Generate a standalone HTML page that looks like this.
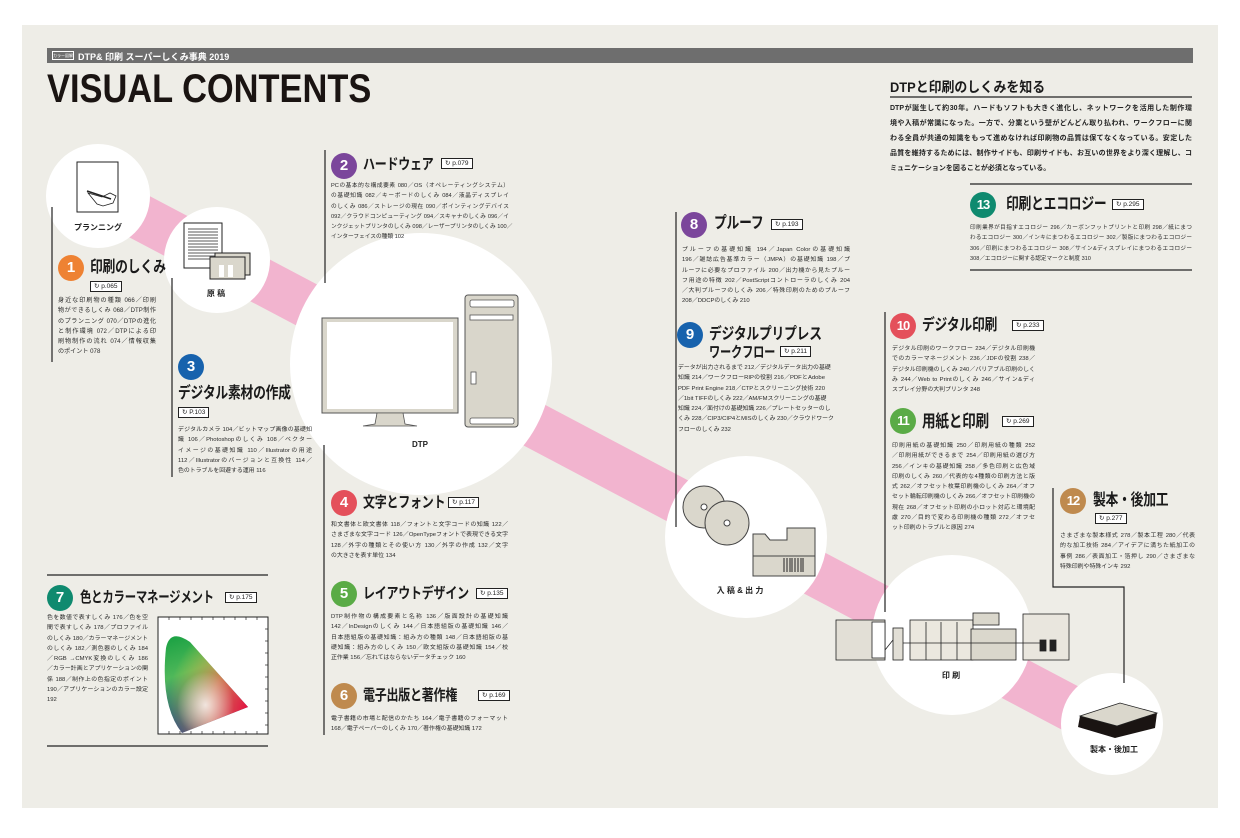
<!DOCTYPE html>
<html><head><meta charset="utf-8">
<style>
*{margin:0;padding:0;box-sizing:border-box}
body{width:1240px;height:838px;background:#fff;position:relative;overflow:hidden;font-family:"Liberation Sans","Noto Sans CJK JP",sans-serif;color:#222}
.a{position:absolute}
.t{position:absolute;font-weight:bold;font-size:15px;white-space:nowrap;letter-spacing:-0.3px;color:#1a1a1a;line-height:1;transform:scaleX(0.8);transform-origin:0 0}
.n{position:absolute;width:26px;height:26px;border-radius:50%;color:#fff;font-weight:bold;font-size:15px;text-align:center;line-height:26px;font-family:"Liberation Sans",sans-serif}
.p{position:absolute;border:1px solid #222;background:#fff;font-size:6.5px;line-height:9px;height:11px;padding:0 3px;white-space:nowrap;color:#222}
.b{position:absolute;font-size:6.1px;line-height:10.3px;color:#2a2a2a}
.b span{display:block;white-space:nowrap;text-align:justify;text-align-last:justify}
.b span.l{text-align-last:left}
.lab{position:absolute;font-size:8px;font-weight:bold;white-space:nowrap;color:#222;transform:translateX(-50%)}
</style></head><body>
<svg class="a" style="left:0;top:0" width="1240" height="838" viewBox="0 0 1240 838">
<defs>
<linearGradient id="g1" x1="0" y1="0" x2="0.3" y2="1"><stop offset="0" stop-color="#0a9a3c"/><stop offset="0.45" stop-color="#4fb85a"/><stop offset="1" stop-color="#1d2a8c"/></linearGradient>
<radialGradient id="g2" cx="1" cy="0.75" r="0.9"><stop offset="0" stop-color="#e8003c"/><stop offset="0.5" stop-color="#f07a50" stop-opacity="0.8"/><stop offset="1" stop-color="#f0e040" stop-opacity="0"/></radialGradient>
<radialGradient id="g3" cx="0.5" cy="0.7" r="0.3"><stop offset="0" stop-color="#fff" stop-opacity="0.8"/><stop offset="1" stop-color="#fff" stop-opacity="0"/></radialGradient>
<clipPath id="cp"><path d="M166 648 Q170 628 190 642 L248 707 L182 733 Q160 705 166 648Z"/></clipPath>
</defs>
<rect x="22" y="25" width="1196" height="783" fill="#eeede7"/>
<rect x="47" y="48" width="1146" height="15" fill="#6e6e6e"/>
<line x1="70" y1="180" x2="1140" y2="745" stroke="#f2b4cf" stroke-width="46"/>
<circle cx="98" cy="196" r="52" fill="#fff"/>
<circle cx="217" cy="260" r="53" fill="#fff"/>
<circle cx="421" cy="364" r="131" fill="#fff"/>
<circle cx="746" cy="537" r="81" fill="#fff"/>
<circle cx="952" cy="635" r="80" fill="#fff"/>
<circle cx="1112" cy="724" r="51" fill="#fff"/>
<rect x="77" y="162" width="41" height="50" fill="#fff" stroke="#222" stroke-width="1"/>
<path d="M88 193 L102 197 L110 193 L116 196 L113 203 L103 206 L97 204 Z" fill="#fff" stroke="#222" stroke-width="0.8"/>
<line x1="87" y1="191" x2="111" y2="199" stroke="#222" stroke-width="1.5"/>
<rect x="184" y="223" width="38" height="45" fill="#fff" stroke="#222"/>
<g stroke="#222" stroke-width="0.7"><line x1="188" y1="229" x2="218" y2="229"/><line x1="188" y1="232" x2="218" y2="232"/><line x1="188" y1="235" x2="218" y2="235"/><line x1="188" y1="238" x2="218" y2="238"/><line x1="188" y1="241" x2="218" y2="241"/><line x1="188" y1="244" x2="218" y2="244"/><line x1="188" y1="247" x2="218" y2="247"/><line x1="188" y1="250" x2="218" y2="250"/><line x1="188" y1="253" x2="218" y2="253"/><line x1="188" y1="256" x2="218" y2="256"/><line x1="188" y1="259" x2="218" y2="259"/></g>
<rect x="215" y="253" width="35" height="22" fill="#dad7cc" stroke="#222"/>
<rect x="210" y="257" width="35" height="22" fill="#dad7cc" stroke="#222"/>
<rect x="219" y="265" width="5" height="12" fill="#fff"/><rect x="228" y="265" width="5" height="12" fill="#fff"/>
<rect x="322" y="318" width="136" height="95" fill="#d9d6cb" stroke="#555"/>
<rect x="327" y="322" width="126" height="87" fill="#fff"/>
<path d="M377 413 L375 424 L363 426 L417 426 L405 424 L403 413Z" fill="#d9d6cb" stroke="#555" stroke-width="0.8"/>
<rect x="465" y="295" width="53" height="132" rx="3" fill="#d9d6cb" stroke="#555"/>
<rect x="470" y="300" width="44" height="7" rx="2" fill="#fff" stroke="#555" stroke-width="0.8"/>
<rect x="470" y="315" width="43" height="5" fill="#fff" stroke="#555" stroke-width="0.8"/>
<rect x="470" y="418" width="44" height="6" rx="2" fill="#fff" stroke="#555" stroke-width="0.8"/>
<rect x="471" y="372" width="5" height="12" fill="#fff" stroke="#555" stroke-width="0.8"/>
<circle cx="704" cy="507" r="21" fill="#dad7cc" stroke="#444"/>
<circle cx="704" cy="507" r="3" fill="#fff" stroke="#444"/>
<circle cx="727" cy="523" r="22" fill="#dad7cc" stroke="#444"/>
<circle cx="727" cy="523" r="3" fill="#fff" stroke="#444"/>
<path d="M753 534 L765 534 L770 540 L787 540 L787 528 L815 528 L815 576 L753 576 Z" fill="#dad7cc" stroke="#444"/>
<line x1="753" y1="556" x2="815" y2="556" stroke="#444"/>
<g stroke="#222" stroke-width="1"><line x1="784" y1="558" x2="784" y2="572"/><line x1="787" y1="558" x2="787" y2="572"/><line x1="790" y1="558" x2="790" y2="572"/><line x1="792" y1="558" x2="792" y2="572"/><line x1="795" y1="558" x2="795" y2="572"/><line x1="798" y1="558" x2="798" y2="572"/><line x1="801" y1="558" x2="801" y2="572"/><line x1="803" y1="558" x2="803" y2="572"/></g>
<g stroke="#222" stroke-width="0.8" fill="#e2dfd6">
<rect x="836" y="620" width="49" height="40"/>
<rect x="872" y="622" width="13" height="36" fill="#fff"/>
<rect x="893" y="628" width="10" height="32"/>
<rect x="910" y="620" width="63" height="40" fill="#ebe8df"/>
<line x1="926" y1="622" x2="926" y2="660"/><line x1="941" y1="622" x2="941" y2="660"/><line x1="957" y1="622" x2="957" y2="660"/>
<rect x="973" y="613" width="26" height="12" fill="#dad7cc"/>
<rect x="971" y="629" width="45" height="31" fill="#dad7cc"/>
<rect x="1023" y="614" width="46" height="46" fill="#e9e6de"/>
<rect x="1040" y="640" width="6" height="11" fill="#222"/><rect x="1050" y="640" width="6" height="11" fill="#222"/>
<line x1="885" y1="650" x2="893" y2="640"/>
<line x1="903" y1="643" x2="1040" y2="643"/>
</g>
<path d="M1080 716 L1120 703 L1157 713 L1155 728 L1115 738 L1078 727 Z" fill="#1a1412"/>
<path d="M1080 716 L1120 703 L1157 713 L1117 726 Z" fill="#dad7cc" stroke="#222" stroke-width="0.8"/>
<rect x="158" y="617" width="110" height="117" fill="#fff" stroke="#222"/>
<g clip-path="url(#cp)"><rect x="158" y="628" width="95" height="110" fill="url(#g1)"/><rect x="158" y="628" width="95" height="110" fill="url(#g2)"/><rect x="158" y="628" width="95" height="110" fill="url(#g3)"/></g>
<g stroke="#222" stroke-width="0.7">
<line x1="169" y1="617" x2="169" y2="620"/><line x1="180" y1="617" x2="180" y2="620"/><line x1="191" y1="617" x2="191" y2="620"/><line x1="202" y1="617" x2="202" y2="620"/><line x1="213" y1="617" x2="213" y2="620"/><line x1="224" y1="617" x2="224" y2="620"/><line x1="235" y1="617" x2="235" y2="620"/><line x1="246" y1="617" x2="246" y2="620"/><line x1="257" y1="617" x2="257" y2="620"/>
<line x1="169" y1="731" x2="169" y2="734"/><line x1="180" y1="731" x2="180" y2="734"/><line x1="191" y1="731" x2="191" y2="734"/><line x1="202" y1="731" x2="202" y2="734"/><line x1="213" y1="731" x2="213" y2="734"/><line x1="224" y1="731" x2="224" y2="734"/><line x1="235" y1="731" x2="235" y2="734"/><line x1="246" y1="731" x2="246" y2="734"/><line x1="257" y1="731" x2="257" y2="734"/>
<line x1="265" y1="629" x2="268" y2="629"/><line x1="265" y1="641" x2="268" y2="641"/><line x1="265" y1="653" x2="268" y2="653"/><line x1="265" y1="665" x2="268" y2="665"/><line x1="265" y1="677" x2="268" y2="677"/><line x1="265" y1="689" x2="268" y2="689"/><line x1="265" y1="701" x2="268" y2="701"/><line x1="265" y1="713" x2="268" y2="713"/><line x1="265" y1="725" x2="268" y2="725"/>
</g>
<g stroke="#222" stroke-width="1.2" fill="none">
<line x1="52" y1="207" x2="52" y2="362"/>
<line x1="172" y1="278" x2="172" y2="477"/>
<line x1="325" y1="150" x2="325" y2="283"/>
<line x1="324" y1="445" x2="324" y2="735"/>
<line x1="676" y1="212" x2="676" y2="527"/>
<line x1="885" y1="312" x2="885" y2="612"/>
<polyline points="1053,488 1053,587 1124,587 1124,683"/>
<line x1="47" y1="575" x2="268" y2="575"/>
<line x1="47" y1="746" x2="268" y2="746"/>
<line x1="890" y1="97" x2="1192" y2="97"/>
<line x1="970" y1="184" x2="1192" y2="184"/>
<line x1="970" y1="270" x2="1192" y2="270"/>
</g>
</svg>

<div class="a" style="left:52px;top:51px;width:22px;height:9px;border:1px solid #fff;font-size:4px;color:#fff;line-height:7px;text-align:center">カラー図解</div>
<div class="a" style="left:78px;top:50px;font-size:9px;font-weight:bold;color:#fff;white-space:nowrap">DTP&amp; 印刷 スーパーしくみ事典 2019</div>
<div class="a" style="left:47px;top:67px;font-size:40px;font-weight:bold;color:#1a1412;white-space:nowrap;transform:scaleX(0.86);transform-origin:0 0">VISUAL CONTENTS</div>

<div class="lab" style="left:98px;top:222px">プランニング</div>
<div class="lab" style="left:216px;top:288px">原 稿</div>
<div class="lab" style="left:420px;top:440px">DTP</div>
<div class="lab" style="left:740px;top:585px">入 稿 &amp; 出 力</div>
<div class="lab" style="left:951px;top:670px">印 刷</div>
<div class="lab" style="left:1114px;top:744px">製本・後加工</div>

<div class="n" style="left:58px;top:255px;background:#ee8233">1</div>
<div class="t" style="left:90px;top:260px;font-size:16px">印刷のしくみ</div>
<div class="p" style="left:90px;top:281px">↻ p.065</div>
<div class="b" style="left:58px;top:296px;width:98px"><span>身近な印刷物の種類 066／印刷</span><span>物ができるしくみ 068／DTP制作</span><span>のプランニング 070／DTPの進化</span><span>と制作環境 072／DTPによる印</span><span>刷物制作の流れ 074／情報収集</span><span class="l">のポイント 078</span></div>

<div class="n" style="left:331px;top:153px;background:#7b469b">2</div>
<div class="t" style="left:363px;top:157px">ハードウェア</div>
<div class="p" style="left:441px;top:158px">↻ p.079</div>
<div class="b" style="left:331px;top:181px;width:178px;font-size:5.7px"><span>PCの基本的な構成要素 080／OS（オペレーティングシステム）</span><span>の基礎知識 082／キーボードのしくみ 084／液晶ディスプレイ</span><span>のしくみ 086／ストレージの現在 090／ポインティングデバイス</span><span>092／クラウドコンピューティング 094／スキャナのしくみ 096／イ</span><span>ンクジェットプリンタのしくみ 098／レーザープリンタのしくみ 100／</span><span class="l">インターフェイスの種類 102</span></div>

<div class="n" style="left:178px;top:354px;background:#1762ad">3</div>
<div class="t" style="left:178px;top:386px;font-size:16px">デジタル素材の作成</div>
<div class="p" style="left:178px;top:407px">↻ P.103</div>
<div class="b" style="left:178px;top:425px;width:134px;font-size:5.9px"><span>デジタルカメラ 104／ビットマップ画像の基礎知</span><span>識 106／Photoshopのしくみ 108／ベクター</span><span>イメージの基礎知識 110／Illustratorの用途</span><span>112／Illustratorのバージョンと互換性 114／</span><span class="l">色のトラブルを回避する運用 116</span></div>

<div class="n" style="left:331px;top:490px;background:#e4505b">4</div>
<div class="t" style="left:363px;top:495px">文字とフォント</div>
<div class="p" style="left:448px;top:497px">↻ p.117</div>
<div class="b" style="left:331px;top:520px;width:177px;font-size:5.9px"><span>和文書体と欧文書体 118／フォントと文字コードの知識 122／</span><span>さまざまな文字コード 126／OpenTypeフォントで表現できる文字</span><span>128／外字の種類とその使い方 130／外字の作成 132／文字</span><span class="l">の大きさを表す単位 134</span></div>

<div class="n" style="left:331px;top:581px;background:#5aab46">5</div>
<div class="t" style="left:363px;top:586px">レイアウトデザイン</div>
<div class="p" style="left:476px;top:588px">↻ p.135</div>
<div class="b" style="left:331px;top:612px;width:177px;font-size:5.9px"><span>DTP制作物の構成要素と名称 136／版面設計の基礎知識</span><span>142／InDesignのしくみ 144／日本語組版の基礎知識 146／</span><span>日本語組版の基礎知識：組み方の種類 148／日本語組版の基</span><span>礎知識：組み方のしくみ 150／欧文組版の基礎知識 154／校</span><span class="l">正作業 156／忘れてはならないデータチェック 160</span></div>

<div class="n" style="left:331px;top:683px;background:#bf8a4e">6</div>
<div class="t" style="left:363px;top:688px">電子出版と著作権</div>
<div class="p" style="left:478px;top:690px">↻ p.169</div>
<div class="b" style="left:331px;top:714px;width:177px;font-size:5.9px"><span>電子書籍の市場と配信のかたち 164／電子書籍のフォーマット</span><span class="l">168／電子ペーパーのしくみ 170／著作権の基礎知識 172</span></div>

<div class="n" style="left:47px;top:585px;background:#0f8a6f">7</div>
<div class="t" style="left:80px;top:590px;transform:scaleX(0.76)">色とカラーマネージメント</div>
<div class="p" style="left:225px;top:592px">↻ p.175</div>
<div class="b" style="left:47px;top:613px;width:101px;font-size:5.9px"><span>色を数値で表すしくみ 176／色を空</span><span>間で表すしくみ 178／プロファイル</span><span>のしくみ 180／カラーマネージメント</span><span>のしくみ 182／測色器のしくみ 184</span><span>／RGB →CMYK変換のしくみ 186</span><span>／カラー計画とアプリケーションの関</span><span>係 188／制作上の色指定のポイント</span><span>190／アプリケーションのカラー設定</span><span class="l">192</span></div>

<div class="n" style="left:681px;top:212px;background:#7b469b">8</div>
<div class="t" style="left:714px;top:216px;font-size:16px">プルーフ</div>
<div class="p" style="left:771px;top:219px">↻ p.193</div>
<div class="b" style="left:682px;top:245px;width:168px;font-size:5.9px"><span>プルーフの基礎知識 194／Japan Colorの基礎知識</span><span>196／雑誌広告基準カラー（JMPA）の基礎知識 198／プ</span><span>ルーフに必要なプロファイル 200／出力機から見たプルー</span><span>フ用途の特徴 202／PostScriptコントローラのしくみ 204</span><span>／大判プルーフのしくみ 206／特殊印刷のためのプルーフ</span><span class="l">208／DDCPのしくみ 210</span></div>

<div class="n" style="left:677px;top:322px;background:#1762ad">9</div>
<div class="t" style="left:709px;top:327px;font-size:16px">デジタルプリプレス</div>
<div class="t" style="left:709px;top:345px;font-size:15px;transform:scaleX(0.75)">ワークフロー</div>
<div class="p" style="left:780px;top:346px">↻ p.211</div>
<div class="b" style="left:678px;top:363px;width:147px;font-size:5.9px"><span>データが出力されるまで 212／デジタルデータ出力の基礎</span><span>知識 214／ワークフローRIPの役割 216／PDFとAdobe</span><span>PDF Print Engine 218／CTPとスクリーニング技術 220</span><span>／1bit TIFFのしくみ 222／AM/FMスクリーニングの基礎</span><span>知識 224／面付けの基礎知識 226／プレートセッターのし</span><span>くみ 228／CIP3/CIP4とMISのしくみ 230／クラウドワーク</span><span class="l">フローのしくみ 232</span></div>

<div class="n" style="left:890px;top:313px;background:#e4505b;font-size:13px;letter-spacing:-1px">10</div>
<div class="t" style="left:922px;top:318px;font-size:16px">デジタル印刷</div>
<div class="p" style="left:1012px;top:320px">↻ p.233</div>
<div class="b" style="left:892px;top:344px;width:143px;font-size:5.9px"><span>デジタル印刷のワークフロー 234／デジタル印刷機</span><span>でのカラーマネージメント 236／JDFの役割 238／</span><span>デジタル印刷機のしくみ 240／バリアブル印刷のしく</span><span>み 244／Web to Printのしくみ 246／サイン&amp;ディ</span><span class="l">スプレイ分野の大判プリンタ 248</span></div>

<div class="n" style="left:890px;top:408px;background:#5aab46;font-size:13px;letter-spacing:-1px">11</div>
<div class="t" style="left:922px;top:413px;font-size:17px">用紙と印刷</div>
<div class="p" style="left:1002px;top:416px">↻ p.269</div>
<div class="b" style="left:892px;top:441px;width:143px;font-size:5.9px"><span>印刷用紙の基礎知識 250／印刷用紙の種類 252</span><span>／印刷用紙ができるまで 254／印刷用紙の選び方</span><span>256／インキの基礎知識 258／多色印刷と広色域</span><span>印刷のしくみ 260／代表的な4種類の印刷方法と版</span><span>式 262／オフセット枚葉印刷機のしくみ 264／オフ</span><span>セット輪転印刷機のしくみ 266／オフセット印刷機の</span><span>現在 268／オフセット印刷の小ロット対応と環境配</span><span>慮 270／目的で変わる印刷機の種類 272／オフセ</span><span class="l">ット印刷のトラブルと原因 274</span></div>

<div class="n" style="left:1060px;top:488px;background:#bf8a4e;font-size:13px;letter-spacing:-1px">12</div>
<div class="t" style="left:1093px;top:493px;font-size:16px">製本・後加工</div>
<div class="p" style="left:1095px;top:513px">↻ p.277</div>
<div class="b" style="left:1060px;top:531px;width:135px;font-size:5.9px"><span>さまざまな製本様式 278／製本工程 280／代表</span><span>的な加工技術 284／アイデアに満ちた紙加工の</span><span>事例 286／表面加工・箔押し 290／さまざまな</span><span class="l">特殊印刷や特殊インキ 292</span></div>

<div class="n" style="left:970px;top:192px;background:#0f8a6f;font-size:13px;letter-spacing:-1px">13</div>
<div class="t" style="left:1006px;top:197px;font-size:16px">印刷とエコロジー</div>
<div class="p" style="left:1112px;top:199px">↻ p.295</div>
<div class="b" style="left:970px;top:223px;width:222px;font-size:5.6px"><span>印刷業界が目指すエコロジー 296／カーボンフットプリントと印刷 298／紙にまつ</span><span>わるエコロジー 300／インキにまつわるエコロジー 302／製版にまつわるエコロジー</span><span>306／印刷にまつわるエコロジー 308／サイン&amp;ディスプレイにまつわるエコロジー</span><span class="l">308／エコロジーに関する認定マークと制度 310</span></div>

<div class="a" style="left:890px;top:77px;font-size:14px;font-weight:bold;white-space:nowrap;color:#1a1a1a;transform:scaleX(0.92);transform-origin:0 0">DTPと印刷のしくみを知る</div>
<div class="b" style="left:890px;top:101px;width:302px;font-size:7px;line-height:15px;font-weight:bold;color:#222"><span>DTPが誕生して約30年。ハードもソフトも大きく進化し、ネットワークを活用した制作環</span><span>境や入稿が常識になった。一方で、分業という壁がどんどん取り払われ、ワークフローに関</span><span>わる全員が共通の知識をもって進めなければ印刷物の品質は保てなくなっている。安定した</span><span>品質を維持するためには、制作サイドも、印刷サイドも、お互いの世界をより深く理解し、コ</span><span class="l">ミュニケーションを図ることが必須となっている。</span></div>
</body></html>
